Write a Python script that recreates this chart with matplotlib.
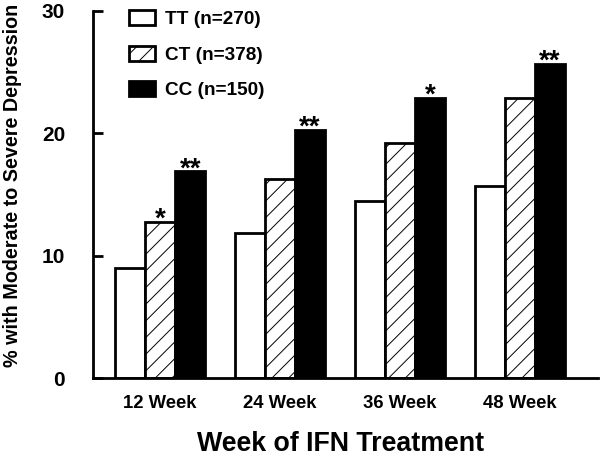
import matplotlib
matplotlib.use('Agg')
import matplotlib.pyplot as plt
import numpy as np

weeks = ['12 Week', '24 Week', '36 Week', '48 Week']
genotypes = ['TT (n=270)', 'CT (n=378)', 'CC (n=150)']
tt = [9.0, 11.9, 14.5, 15.7]
ct = [12.8, 16.3, 19.2, 22.9]
cc = [16.9, 20.3, 22.9, 25.7]
ct_marks = ['*', '', '', '']
cc_marks = ['**', '**', '*', '**']

plt.rcParams['font.family'] = ['Liberation Sans', 'DejaVu Sans']
plt.rcParams['font.weight'] = 'bold'
plt.rcParams['hatch.linewidth'] = 0.7
plt.rcParams['hatch.color'] = '#555555'

fig = plt.figure(figsize=(6.03, 4.57), dpi=100)
ax = fig.add_axes([93 / 603, 1 - 378.3 / 457, (598 - 93) / 603, (378.3 - 11) / 457])

x = np.arange(len(weeks))
w = 0.25
lw = 2.0
ax.bar(x - w, tt, w, color='white', edgecolor='black', linewidth=lw, label=genotypes[0])
ax.bar(x, ct, w, color='white', edgecolor='black', linewidth=lw, hatch='//', label=genotypes[1])
ax.bar(x + w, cc, w, color='black', edgecolor='black', linewidth=lw, label=genotypes[2])

# significance stars (baseline sits a little below the bar top; Arial's * is high)
for xi, v, m in zip(x, ct, ct_marks):
    if m:
        ax.text(xi, v - 0.4, m, ha='center', va='baseline', fontsize=20, fontweight='bold')
for xi, v, m in zip(x + w, cc, cc_marks):
    if m:
        ax.text(xi, v - 0.4, m, ha='center', va='baseline', fontsize=20, fontweight='bold')

ax.set_xlim(-0.56, 3.65)
ax.set_ylim(0, 30)
ax.set_yticks([0, 10, 20, 30])
ax.set_xticks(x)
ax.set_xticklabels(weeks, fontsize=13.3, fontweight='bold')
ax.tick_params(axis='x', length=0, pad=12)
ax.tick_params(axis='y', direction='in', length=7, width=2.0, labelsize=15, pad=20)
for t in ax.get_yticklabels():
    t.set_fontweight('bold')
ax.spines['top'].set_visible(False)
ax.spines['right'].set_visible(False)
ax.spines['left'].set_linewidth(2.0)
ax.spines['bottom'].set_linewidth(2.0)

ax.set_xlabel('Week of IFN Treatment', fontsize=19.3, fontweight='bold')
ax.xaxis.set_label_coords(0.491, -0.143)
ax.set_ylabel('% with Moderate to Severe Depression', fontsize=14.2, fontweight='bold')
ax.yaxis.set_label_coords(-0.141, 0.524)

ax.legend(frameon=False, loc='upper left', bbox_to_anchor=(129 / 603, 1 - 10 / 457),
          bbox_transform=fig.transFigure, borderpad=0, borderaxespad=0,
          handlelength=1.37, handleheight=0.84, labelspacing=0.92, handletextpad=0.53,
          prop={'size': 13.7, 'weight': 'bold'})

plt.savefig('out.png', dpi=100)
